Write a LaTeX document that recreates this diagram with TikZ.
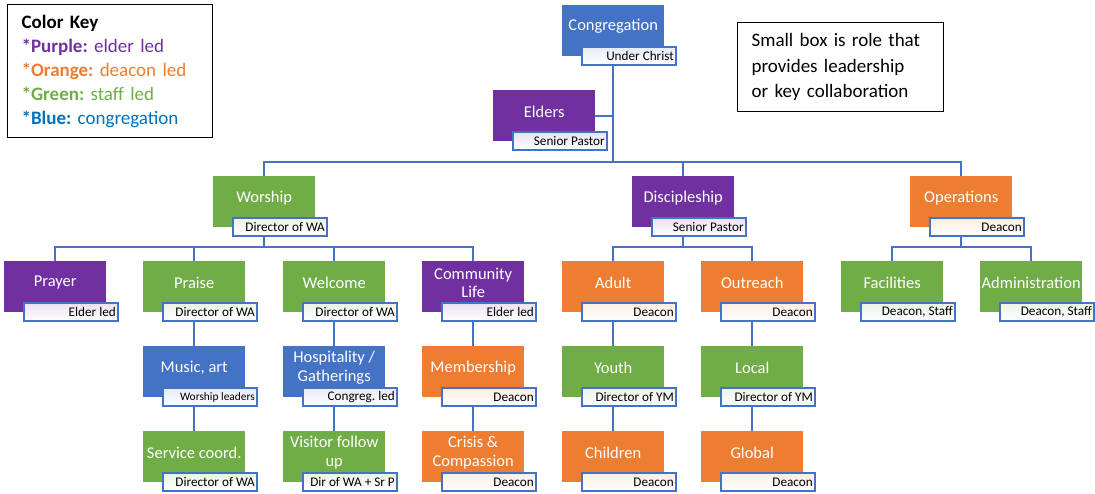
\documentclass[tikz,border=0pt]{standalone}
\usepackage{fontspec}
\setmainfont{Carlito}
\usepackage{xcolor}
\definecolor{CongBlue}{HTML}{4472C4}
\definecolor{ElderPurple}{HTML}{7030A0}
\definecolor{DeaconOrange}{HTML}{ED7D31}
\definecolor{StaffGreen}{HTML}{70AD47}
\definecolor{KeyBlue}{HTML}{0070C0}
\definecolor{LinkBlue}{HTML}{4472C4}
\usepackage{tikz}
\usetikzlibrary{positioning}
\frenchspacing

\tikzset{
  team/.style={fill=#1, minimum width=102pt, minimum height=51pt, inner sep=0pt, anchor=north west},
  head/.style={text=white, font=\fontsize{16.5}{18.5}\selectfont, align=center, yshift=4pt, inner sep=0pt},
  lead/.style={draw=LinkBlue, line width=1.6pt, top color=#1!14, bottom color=white,
    minimum height=18pt, text width=90pt, inner xsep=2pt, inner ysep=0pt, align=flush right,
    font=\fontsize{13.2}{14}\selectfont},
  link/.style={draw=LinkBlue, line width=1.8pt},
  boxnote/.style={draw, line width=1.2pt, anchor=north west, inner xsep=14pt, align=left,
    font=\fontsize{19}{24}\selectfont},
}

\begin{document}
\begin{tikzpicture}[x=1pt, y=-1pt]
  \useasboundingbox (0,0) rectangle (1095,493);

  % --- Legende et note ---
  \node[boxnote, minimum width=205pt, minimum height=133pt, text width=177pt] (key) at (7,4)
    {\textbf{Color Key}\\
     \color{ElderPurple}\textbf{*Purple:} elder led\\
     \color{DeaconOrange}\textbf{*Orange:} deacon led\\
     \color{StaffGreen}\textbf{*Green:} staff led\\
     \color{KeyBlue}\textbf{*Blue:} congregation};
  \node[boxnote, minimum width=206pt, minimum height=89pt, text width=178pt,
    font=\fontsize{19}{25.5}\selectfont] (note) at (737,22)
    {Small box is role that\\provides leadership\\or key collaboration};

  % --- Sommet ---
  \node[team=CongBlue, label={[head]center:Congregation}] (congr) at (562,5) {};
  \node[lead=CongBlue, below right=-10pt and 19pt of congr.south west] (congr-r) {Under Christ};
  \node[team=ElderPurple, label={[head]center:Elders}] (elders) at (493,90) {};
  \node[lead=ElderPurple, below right=-10pt and 19pt of elders.south west] (elders-r) {Senior Pastor};

  % --- Ministeres ---
  \node[team=StaffGreen, label={[head]center:Worship}] (worship) at (213,176) {};
  \node[lead=StaffGreen, below right=-10pt and 19pt of worship.south west] (worship-r) {Director of WA};
  \node[team=ElderPurple, label={[head]center:Discipleship}] (disc) at (632,176) {};
  \node[lead=ElderPurple, below right=-10pt and 19pt of disc.south west] (disc-r) {Senior Pastor};
  \node[team=DeaconOrange, label={[head]center:Operations}] (ops) at (910,176) {};
  \node[lead=DeaconOrange, below right=-10pt and 19pt of ops.south west] (ops-r) {Deacon};

  % --- Equipes ---
  \node[team=ElderPurple, label={[head]center:Prayer}] (prayer) at (4,261) {};
  \node[lead=ElderPurple, below right=-10pt and 19pt of prayer.south west] (prayer-r) {Elder led};
  \node[team=StaffGreen, label={[head]center:Praise}] (praise) at (143,261) {};
  \node[lead=StaffGreen, below right=-10pt and 19pt of praise.south west] (praise-r) {Director of WA};
  \node[team=StaffGreen, label={[head]center:Welcome}] (welcome) at (283,261) {};
  \node[lead=StaffGreen, below right=-10pt and 19pt of welcome.south west] (welcome-r) {Director of WA};
  \node[team=ElderPurple, label={[head]center:{Community\\Life}}] (community) at (422,261) {};
  \node[lead=ElderPurple, below right=-10pt and 19pt of community.south west] (community-r) {Elder led};
  \node[team=DeaconOrange, label={[head]center:Adult}] (adult) at (562,261) {};
  \node[lead=DeaconOrange, below right=-10pt and 19pt of adult.south west] (adult-r) {Deacon};
  \node[team=DeaconOrange, label={[head]center:Outreach}] (outreach) at (701,261) {};
  \node[lead=DeaconOrange, below right=-10pt and 19pt of outreach.south west] (outreach-r) {Deacon};
  \node[team=StaffGreen, label={[head]center:Facilities}] (facil) at (841,261) {};
  \node[lead=StaffGreen, below right=-10pt and 19pt of facil.south west] (facil-r) {Deacon, Staff};
  \node[team=StaffGreen, label={[head]center:Administration}] (admin) at (980,261) {};
  \node[lead=StaffGreen, below right=-10pt and 19pt of admin.south west] (admin-r) {Deacon, Staff};

  % --- Sous-equipes ---
  \node[team=CongBlue, label={[head]center:{Music, art}}] (music) at (143,346) {};
  \node[lead=CongBlue, below right=-10pt and 19pt of music.south west,
    font=\fontsize{11.4}{12}\selectfont] (music-r) {Worship leaders};
  \node[team=CongBlue, label={[head]center:{Hospitality /\\Gatherings}}] (hosp) at (283,346) {};
  \node[lead=CongBlue, below right=-10pt and 19pt of hosp.south west] (hosp-r) {Congreg. led};
  \node[team=DeaconOrange, label={[head]center:Membership}] (member) at (422,346) {};
  \node[lead=DeaconOrange, below right=-10pt and 19pt of member.south west] (member-r) {Deacon};
  \node[team=StaffGreen, label={[head]center:Youth}] (youth) at (562,346) {};
  \node[lead=StaffGreen, below right=-10pt and 19pt of youth.south west] (youth-r) {Director of YM};
  \node[team=StaffGreen, label={[head]center:Local}] (local) at (701,346) {};
  \node[lead=StaffGreen, below right=-10pt and 19pt of local.south west] (local-r) {Director of YM};

  \node[team=StaffGreen, label={[head]center:{Service coord.}}] (service) at (143,431) {};
  \node[lead=StaffGreen, below right=-10pt and 19pt of service.south west] (service-r) {Director of WA};
  \node[team=StaffGreen, label={[head]center:{Visitor follow\\up}}] (visitor) at (283,431) {};
  \node[lead=StaffGreen, below right=-10pt and 19pt of visitor.south west] (visitor-r) {\mbox{Dir of WA + Sr P}};
  \node[team=DeaconOrange, label={[head]center:{Crisis \&\\Compassion}}] (crisis) at (422,431) {};
  \node[lead=DeaconOrange, below right=-10pt and 19pt of crisis.south west] (crisis-r) {Deacon};
  \node[team=DeaconOrange, label={[head]center:Children}] (children) at (562,431) {};
  \node[lead=DeaconOrange, below right=-10pt and 19pt of children.south west] (children-r) {Deacon};
  \node[team=DeaconOrange, label={[head]center:Global}] (global) at (701,431) {};
  \node[lead=DeaconOrange, below right=-10pt and 19pt of global.south west] (global-r) {Deacon};

  % --- Liens ---
  \coordinate (trunk) at (congr |- 0,162);
  \draw[link] (congr |- congr-r.south) -- (trunk);
  \draw[link] (elders.east) -- (elders.east -| trunk);
  \draw[link] (trunk) -| (worship.north);
  \draw[link] (trunk) -| (disc.north);
  \draw[link] (trunk) -| (ops.north);

  \draw[link] (worship |- worship-r.south) -- (worship |- 0,247) -| (prayer.north);
  \draw[link] (worship |- 0,247) -| (praise.north);
  \draw[link] (worship |- 0,247) -| (welcome.north);
  \draw[link] (worship |- 0,247) -| (community.north);
  \draw[link] (disc |- disc-r.south) -- (disc |- 0,247) -| (adult.north);
  \draw[link] (disc |- 0,247) -| (outreach.north);
  \draw[link] (ops |- ops-r.south) -- (ops |- 0,247) -| (facil.north);
  \draw[link] (ops |- 0,247) -| (admin.north);

  \draw[link] (praise |- praise-r.south) -- (music.north);
  \draw[link] (music |- music-r.south) -- (service.north);
  \draw[link] (welcome |- welcome-r.south) -- (hosp.north);
  \draw[link] (hosp |- hosp-r.south) -- (visitor.north);
  \draw[link] (community |- community-r.south) -- (member.north);
  \draw[link] (member |- member-r.south) -- (crisis.north);
  \draw[link] (adult |- adult-r.south) -- (youth.north);
  \draw[link] (youth |- youth-r.south) -- (children.north);
  \draw[link] (outreach |- outreach-r.south) -- (local.north);
  \draw[link] (local |- local-r.south) -- (global.north);
\end{tikzpicture}
\end{document}
